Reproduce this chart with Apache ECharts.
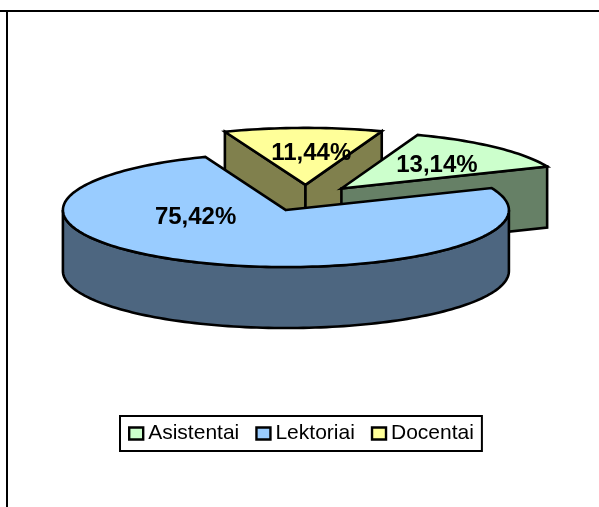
<!DOCTYPE html>
<html><head><meta charset="utf-8">
<style>html,body{margin:0;padding:0;background:#fff}#c{width:599px;height:507px}</style>
<script src="https://cdn.jsdelivr.net/npm/echarts@6/dist/echarts.min.js"></script>
</head><body><div id="c"></div>
<script>
const categories = ['Asistentai', 'Lektoriai', 'Docentai'];
const values = [13.14, 75.42, 11.44];
const labels = ['13,14%', '75,42%', '11,44%'];
const colors = ['#CCFFCC', '#99CCFF', '#FFFF99'];
const wallColors = ['#668066', '#4D6680', '#80804D'];

// Pie projection geometry (layout only)
const G = {cx: 306, cy: 198, rx: 223, ry: 57, depth: 61, explode: 0.23, first: 70, line: 2.6, labelDy: 2};
// Paint order of slices, and label placement in pie space: [angle, radius]
const layers = [10, 20, 0];
const labelPos = [[46.3, 0.62], [192.3, 0.4145], [87.5, 0.59]];

const rad = d => d * Math.PI / 180;
const total = values.reduce((a, b) => a + b, 0);
let acc = 0;
const slices = values.map(v => {
  const a0 = G.first - acc / total * 360;
  acc += v;
  const a1 = G.first - acc / total * 360;
  const mid = (a0 + a1) / 2;
  return {a0, a1, mid,
    ox: G.cx + G.explode * G.rx * Math.cos(rad(mid)),
    oy: G.cy - G.explode * G.ry * Math.sin(rad(mid))};
});
const pt = (s, a, d) => [s.ox + G.rx * Math.cos(rad(a)), s.oy - G.ry * Math.sin(rad(a)) + (d || 0)];
function arc(s, from, to, d) {
  const out = [], n = Math.max(2, Math.ceil(Math.abs(from - to) / 1.5));
  for (let k = 0; k <= n; k++) out.push(pt(s, from + (to - from) * k / n, d));
  return out;
}
function poly(points, fill, z2) {
  return {type: 'polygon', shape: {points}, z2,
    style: {fill, stroke: '#000', lineWidth: G.line, lineJoin: 'miter'}};
}
function renderSlice(i) {
  const s = slices[i], base = layers[i], kids = [], wall = wallColors[i], apex = [s.ox, s.oy];
  const face = a => poly([apex, pt(s, a), pt(s, a, G.depth), [s.ox, s.oy + G.depth]], wall, base + 1);
  if (Math.cos(rad(s.a0)) < 0) kids.push(face(s.a0));
  if (Math.cos(rad(s.a1)) > 0) kids.push(face(s.a1));
  // outer wall: parts of the arc in the front half (sin < 0)
  for (let k = -2; k <= 1; k++) {
    const hi = Math.min(s.a0, 360 * k), lo = Math.max(s.a1, 360 * k - 180);
    if (hi > lo) kids.push(poly(arc(s, hi, lo).concat(arc(s, lo, hi, G.depth)), wall, base + 2));
  }
  kids.push(poly([apex].concat(arc(s, s.a0, s.a1)), colors[i], base + 3));
  const lp = labelPos[i];
  const lx = s.ox + lp[1] * G.rx * Math.cos(rad(lp[0]));
  const ly = s.oy - lp[1] * G.ry * Math.sin(rad(lp[0])) + G.labelDy;
  kids.push({type: 'text', x: lx, y: ly, z2: 100, style: {text: labels[i], fill: '#000',
    font: 'bold 24px "Liberation Sans", Arial, sans-serif', textAlign: 'center', textVerticalAlign: 'middle'}});
  return {type: 'group', children: kids};
}

const chart = echarts.init(document.getElementById('c'), null, {renderer: 'canvas'});
chart.setOption({
  animation: false,
  backgroundColor: '#fff',
  legend: {
    data: categories, left: 120, top: 416, orient: 'horizontal', selectedMode: false,
    backgroundColor: '#fff', borderColor: '#000', borderWidth: 2, borderRadius: 0,
    padding: [7, 8, 7, 8], itemWidth: 14, itemHeight: 12, itemGap: 16,
    icon: 'rect',
    itemStyle: {borderColor: '#000', borderWidth: 2.4},
    textStyle: {fontFamily: '"Liberation Sans", Arial, sans-serif', fontSize: 21, color: '#000', padding: 0}
  },
  graphic: [
    {type: 'line', silent: true, shape: {x1: 0, y1: 11, x2: 599, y2: 11}, style: {stroke: '#000', lineWidth: 2}},
    {type: 'line', silent: true, shape: {x1: 7, y1: 11, x2: 7, y2: 507}, style: {stroke: '#000', lineWidth: 2}}
  ],
  series: categories.map((name, i) => ({
    type: 'custom', name, coordinateSystem: 'none', silent: true,
    itemStyle: {color: colors[i]},
    data: [[values[i]]],
    renderItem: () => renderSlice(i)
  }))
});
</script></body></html>
